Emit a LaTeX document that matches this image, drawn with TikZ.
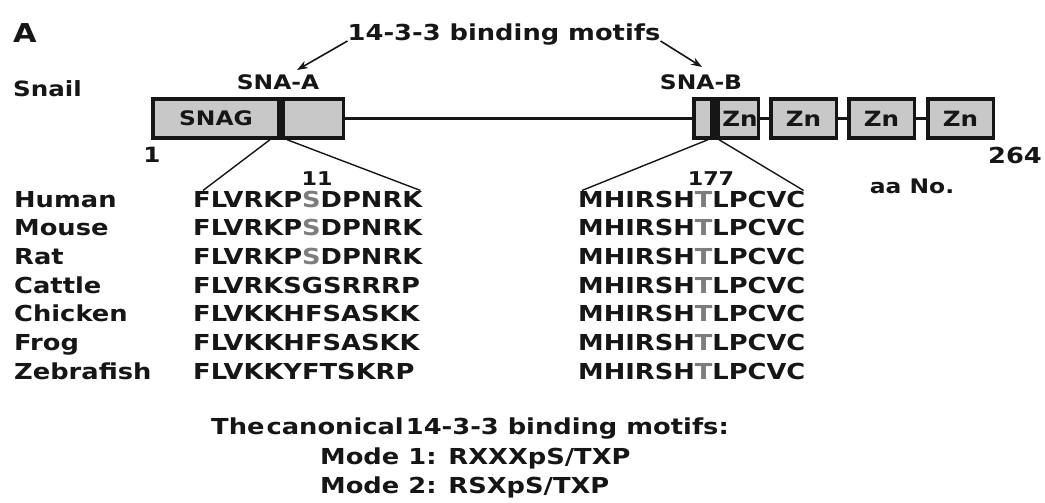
\documentclass[tikz,border=0pt]{standalone}
\usepackage{fontspec}
\usetikzlibrary{arrows.meta, positioning}
\newfontfamily\figfont{DejaVu Sans Bold}[FakeStretch=1.17]
\definecolor{boxgray}{RGB}{200,200,200}
\definecolor{resgray}{RGB}{125,125,125}
\definecolor{inkblack}{RGB}{22,22,22}
\newcommand{\resmark}[1]{\textcolor{resgray}{#1}}

\begin{document}
\begin{tikzpicture}[
  x=1pt, y=-1pt, >=Stealth,
  every node/.style={inner sep=0pt, text=inkblack},
  lbl/.style={font=\figfont\fontsize{#1}{#1}\selectfont},
  lbl/.default=22,
  dombox/.style={draw=inkblack, fill=boxgray, line width=3.5pt, minimum height=38.5pt, minimum width=#1},
  motifbar/.style={fill=inkblack, minimum width=#1, minimum height=42pt},
  backbone/.style={draw=inkblack, line width=2.5pt},
  zoomline/.style={draw=inkblack, line width=1.4pt},
  pointer/.style={draw=inkblack, line width=1.6pt, -{Stealth[length=11pt, width=8pt]}}
]
\useasboundingbox (0,0) rectangle (1045,503);

% ---- headings ----
\node[lbl=26, anchor=base] (panel) at (25,43) {A};
\node[lbl, anchor=base] (motifs) at (504,41) {14-3-3 binding motifs};
\node[lbl=21, anchor=base west] (snail) at (13,96) {Snail};
\node[lbl=20, anchor=base] (snaA) at (278,89) {SNA-A};
\node[lbl=20, anchor=base] (snaB) at (701,90) {SNA-B};
\coordinate (tipA) at (297,70);
\coordinate (tipB) at (702,67);
\draw[pointer] (motifs.base west) -- (tipA);
\draw[pointer] (motifs.base east) -- (tipB);

% ---- protein domains ----
\node[dombox=190.5pt] (snag) at (248,118.5) {};
\node[lbl=20, anchor=base] (snaglbl) at (216,125.5) {SNAG};
\node[motifbar=8pt] (barA) at (281,118.5) {};
\node[dombox=64.5pt] (snb) at (726,118.5) {};
\node[motifbar=10pt] (barB) at (715,118.5) {};
\node[lbl=21] (znlbl1) at (740,118.5) {Zn};
\foreach \n/\cx in {2/803.5, 3/881.5, 4/960.5} {
  \node[dombox=65.5pt] (zn\n) at (\cx,118.5) {};
  \node[lbl=21] (znlbl\n) at (zn\n) {Zn};
}
\draw[backbone] (snag.east) -- (snb.west);
\foreach \a/\b in {snb/zn2, zn2/zn3, zn3/zn4}
  \draw[backbone] (\a.east) -- (\b.west);

% ---- residue numbers ----
\node[lbl=21, anchor=base] (aa1) at (152,162) {1};
\node[lbl, anchor=base] (aa264) at (1015,163) {264};
\node[lbl=19, anchor=base] (aa11) at (317,185) {11};
\node[lbl=19, anchor=base] (aa177) at (711,185) {177};
\node[lbl=20, anchor=base] (aano) at (912,193) {aa No.};

% ---- alignment ----
\foreach \sp/\sa/\sb [count=\i from 0] in {
  Human/{FLVRKP\resmark{S}DPNRK}/{MHIRSH\resmark{T}LPCVC},
  Mouse/{FLVRKP\resmark{S}DPNRK}/{MHIRSH\resmark{T}LPCVC},
  Rat/{FLVRKP\resmark{S}DPNRK}/{MHIRSH\resmark{T}LPCVC},
  Cattle/{FLVRKSGSRRRP}/{MHIRSH\resmark{T}LPCVC},
  Chicken/{FLVKKHFSASKK}/{MHIRSH\resmark{T}LPCVC},
  Frog/{FLVKKHFSASKK}/{MHIRSH\resmark{T}LPCVC},
  Zebrafish/{FLVKKYFTSKRP}/{MHIRSH\resmark{T}LPCVC}} {
  \node[lbl, anchor=base west] (sp\i) at (14,{207+28.67*\i}) {\sp};
  \node[lbl, anchor=base west] (seqA\i) at (193,{207+28.67*\i}) {\sa};
  \node[lbl, anchor=base west] (seqB\i) at (578,{207+28.67*\i}) {\sb};
}
\draw[zoomline] ([xshift=-11pt]barA.south) -- ([xshift=10pt]seqA0.north west);
\draw[zoomline] ([xshift=6pt]barA.south) -- ([xshift=-2pt]seqA0.north east);
\draw[zoomline] ([xshift=-7pt]barB.south) -- ([xshift=4pt]seqB0.north west);
\draw[zoomline] ([xshift=4pt]barB.south) -- ([xshift=-2pt]seqB0.north east);

% ---- canonical motifs ----
\node[lbl, anchor=base] (canon) at (470,434) {The\kern2pt canonical\kern2pt 14-3-3 binding motifs:};
\node[lbl, anchor=base west] (mode1) at (320,464) {Mode 1: RXXXpS/TXP};
\node[lbl, anchor=base west] (mode2) at (320,493) {Mode 2: RSXpS/TXP};
\end{tikzpicture}
\end{document}
